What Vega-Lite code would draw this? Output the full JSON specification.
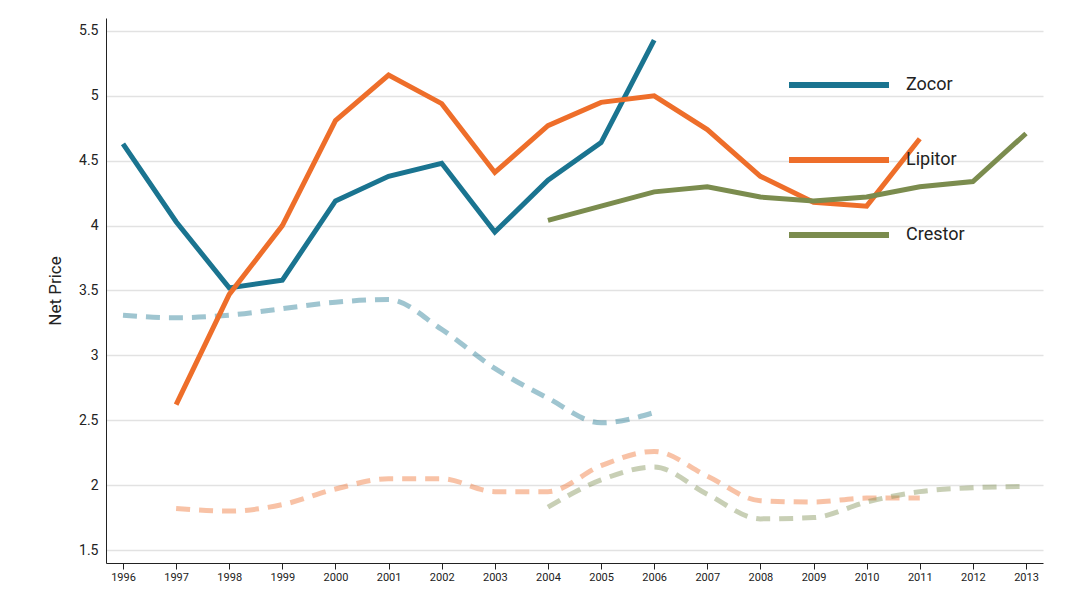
{
  "$schema": "https://vega.github.io/schema/vega-lite/v6.json",
  "width": 1069,
  "height": 600,
  "autosize": {"type": "fit", "contains": "padding"},
  "padding": {"left": 46, "top": 18, "right": 26, "bottom": 18},
  "config": {
    "font": "Roboto",
    "view": {"stroke": null},
    "axis": {"domainColor": "#222", "tickColor": "#222", "labelColor": "#222", "titleColor": "#222"}
  },
  "data": {
    "values": [
      {"year": "1996", "drug": "Zocor", "kind": "solid", "price": 4.63},
      {"year": "1997", "drug": "Zocor", "kind": "solid", "price": 4.03},
      {"year": "1998", "drug": "Zocor", "kind": "solid", "price": 3.52},
      {"year": "1999", "drug": "Zocor", "kind": "solid", "price": 3.58},
      {"year": "2000", "drug": "Zocor", "kind": "solid", "price": 4.19},
      {"year": "2001", "drug": "Zocor", "kind": "solid", "price": 4.38},
      {"year": "2002", "drug": "Zocor", "kind": "solid", "price": 4.48},
      {"year": "2003", "drug": "Zocor", "kind": "solid", "price": 3.95},
      {"year": "2004", "drug": "Zocor", "kind": "solid", "price": 4.35},
      {"year": "2005", "drug": "Zocor", "kind": "solid", "price": 4.64},
      {"year": "2006", "drug": "Zocor", "kind": "solid", "price": 5.43},
      {"year": "1997", "drug": "Lipitor", "kind": "solid", "price": 2.62},
      {"year": "1998", "drug": "Lipitor", "kind": "solid", "price": 3.47},
      {"year": "1999", "drug": "Lipitor", "kind": "solid", "price": 4.0},
      {"year": "2000", "drug": "Lipitor", "kind": "solid", "price": 4.81},
      {"year": "2001", "drug": "Lipitor", "kind": "solid", "price": 5.16},
      {"year": "2002", "drug": "Lipitor", "kind": "solid", "price": 4.94},
      {"year": "2003", "drug": "Lipitor", "kind": "solid", "price": 4.41},
      {"year": "2004", "drug": "Lipitor", "kind": "solid", "price": 4.77},
      {"year": "2005", "drug": "Lipitor", "kind": "solid", "price": 4.95},
      {"year": "2006", "drug": "Lipitor", "kind": "solid", "price": 5.0},
      {"year": "2007", "drug": "Lipitor", "kind": "solid", "price": 4.74},
      {"year": "2008", "drug": "Lipitor", "kind": "solid", "price": 4.38},
      {"year": "2009", "drug": "Lipitor", "kind": "solid", "price": 4.18},
      {"year": "2010", "drug": "Lipitor", "kind": "solid", "price": 4.15},
      {"year": "2011", "drug": "Lipitor", "kind": "solid", "price": 4.67},
      {"year": "2004", "drug": "Crestor", "kind": "solid", "price": 4.04},
      {"year": "2005", "drug": "Crestor", "kind": "solid", "price": 4.15},
      {"year": "2006", "drug": "Crestor", "kind": "solid", "price": 4.26},
      {"year": "2007", "drug": "Crestor", "kind": "solid", "price": 4.30},
      {"year": "2008", "drug": "Crestor", "kind": "solid", "price": 4.22},
      {"year": "2009", "drug": "Crestor", "kind": "solid", "price": 4.19},
      {"year": "2010", "drug": "Crestor", "kind": "solid", "price": 4.22},
      {"year": "2011", "drug": "Crestor", "kind": "solid", "price": 4.30},
      {"year": "2012", "drug": "Crestor", "kind": "solid", "price": 4.34},
      {"year": "2013", "drug": "Crestor", "kind": "solid", "price": 4.71},
      {"year": "1996", "drug": "Zocor", "kind": "dashed", "price": 3.31},
      {"year": "1997", "drug": "Zocor", "kind": "dashed", "price": 3.29},
      {"year": "1998", "drug": "Zocor", "kind": "dashed", "price": 3.31},
      {"year": "1999", "drug": "Zocor", "kind": "dashed", "price": 3.36},
      {"year": "2000", "drug": "Zocor", "kind": "dashed", "price": 3.41},
      {"year": "2001", "drug": "Zocor", "kind": "dashed", "price": 3.43},
      {"year": "2002", "drug": "Zocor", "kind": "dashed", "price": 3.2},
      {"year": "2003", "drug": "Zocor", "kind": "dashed", "price": 2.9},
      {"year": "2004", "drug": "Zocor", "kind": "dashed", "price": 2.67},
      {"year": "2005", "drug": "Zocor", "kind": "dashed", "price": 2.48},
      {"year": "2006", "drug": "Zocor", "kind": "dashed", "price": 2.56},
      {"year": "1997", "drug": "Lipitor", "kind": "dashed", "price": 1.82},
      {"year": "1998", "drug": "Lipitor", "kind": "dashed", "price": 1.80},
      {"year": "1999", "drug": "Lipitor", "kind": "dashed", "price": 1.85},
      {"year": "2000", "drug": "Lipitor", "kind": "dashed", "price": 1.97},
      {"year": "2001", "drug": "Lipitor", "kind": "dashed", "price": 2.05},
      {"year": "2002", "drug": "Lipitor", "kind": "dashed", "price": 2.05},
      {"year": "2003", "drug": "Lipitor", "kind": "dashed", "price": 1.95},
      {"year": "2004", "drug": "Lipitor", "kind": "dashed", "price": 1.95},
      {"year": "2005", "drug": "Lipitor", "kind": "dashed", "price": 2.15},
      {"year": "2006", "drug": "Lipitor", "kind": "dashed", "price": 2.26},
      {"year": "2007", "drug": "Lipitor", "kind": "dashed", "price": 2.07},
      {"year": "2008", "drug": "Lipitor", "kind": "dashed", "price": 1.88},
      {"year": "2009", "drug": "Lipitor", "kind": "dashed", "price": 1.87},
      {"year": "2010", "drug": "Lipitor", "kind": "dashed", "price": 1.90},
      {"year": "2011", "drug": "Lipitor", "kind": "dashed", "price": 1.90},
      {"year": "2004", "drug": "Crestor", "kind": "dashed", "price": 1.83},
      {"year": "2005", "drug": "Crestor", "kind": "dashed", "price": 2.04},
      {"year": "2006", "drug": "Crestor", "kind": "dashed", "price": 2.14},
      {"year": "2007", "drug": "Crestor", "kind": "dashed", "price": 1.93},
      {"year": "2008", "drug": "Crestor", "kind": "dashed", "price": 1.74},
      {"year": "2009", "drug": "Crestor", "kind": "dashed", "price": 1.75},
      {"year": "2010", "drug": "Crestor", "kind": "dashed", "price": 1.87},
      {"year": "2011", "drug": "Crestor", "kind": "dashed", "price": 1.95},
      {"year": "2012", "drug": "Crestor", "kind": "dashed", "price": 1.98},
      {"year": "2013", "drug": "Crestor", "kind": "dashed", "price": 1.99}
    ]
  },
  "encoding": {
    "x": {
      "field": "year", "type": "ordinal", "title": null,
      "scale": {"type": "point", "padding": 0.32},
      "axis": {"labelAngle": 0, "labelFontSize": 11, "tickSize": 6, "grid": false}
    },
    "y": {
      "field": "price", "type": "quantitative", "title": "Net Price",
      "scale": {"domain": [1.4, 5.6], "nice": false, "zero": false},
      "axis": {"values": [1.5, 2, 2.5, 3, 3.5, 4, 4.5, 5, 5.5], "format": "~g", "labelFontSize": 14, "titleFontSize": 17, "titleFontWeight": "normal", "titlePadding": 14, "gridColor": "#e2e2e2", "gridWidth": 1.5, "tickSize": 0, "labelPadding": 8}
    },
    "color": {
      "field": "drug", "type": "nominal",
      "scale": {"domain": ["Zocor", "Lipitor", "Crestor"], "range": ["#1a7490", "#ee6e2a", "#7b8c4e"]},
      "legend": {"title": null, "orient": "none", "legendX": 680, "legendY": 14, "symbolType": "stroke", "symbolSize": 10000, "symbolStrokeWidth": 6, "symbolOpacity": 1, "symbolDash": [], "labelFontSize": 18, "rowPadding": 10, "labelOffset": 14, "labelColor": "#222"}
    },
    "detail": {"field": "drug"}
  },
  "layer": [
    {
      "transform": [{"filter": "datum.kind == 'dashed'"}],
      "mark": {"type": "line", "strokeWidth": 5, "strokeDash": [14, 9], "opacity": 0.42, "interpolate": "monotone"}
    },
    {
      "transform": [{"filter": "datum.kind == 'solid'"}],
      "mark": {"type": "line", "strokeWidth": 5}
    }
  ]
}
